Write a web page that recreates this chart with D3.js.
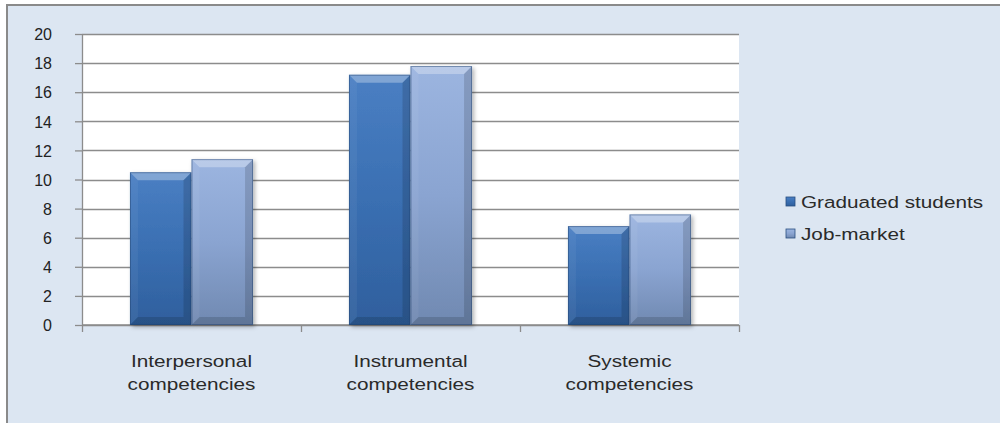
<!DOCTYPE html>
<html>
<head>
<meta charset="utf-8">
<script src="https://cdn.jsdelivr.net/npm/d3@7"></script>
<style>
  body { margin: 0; background: #fff; }
  svg { display: block; }
  .tick text { font-family: "Liberation Sans", Arial, sans-serif; fill: #222; }
</style>
</head>
<body>
<div class="chart"></div>
<script>
// data
var categories = ["Interpersonal competencies", "Instrumental competencies", "Systemic competencies"];
var seriesNames = ["Graduated students", "Job-market"];
var graduated = [10.5, 17.2, 6.8];
var jobMarket = [11.4, 17.8, 7.6];
var yTicks = [0, 2, 4, 6, 8, 10, 12, 14, 16, 18, 20];

var width = 1000,
    height = 423,
    plot = { left: 82, right: 739, top: 34, bottom: 325 };

var svg = d3.select('.chart').append('svg').attr('width', width).attr('height', height);
var defs = svg.append('defs');

// bar gradients, one per series
var palettes = [
  { id: 'gDark', stops: ['#4a7fc3', '#3a6fb2', '#2f5f9d'] },
  { id: 'gLight', stops: ['#9cb5e0', '#8aa4d1', '#7089b1'] }
];
palettes.forEach(function (p) {
  var g = defs.append('linearGradient').attr('id', p.id).attr('x1', 0).attr('y1', 0).attr('x2', 0).attr('y2', 1);
  g.append('stop').attr('offset', '0%').attr('stop-color', p.stops[0]);
  g.append('stop').attr('offset', '50%').attr('stop-color', p.stops[1]);
  g.append('stop').attr('offset', '100%').attr('stop-color', p.stops[2]);
});
var shadow = defs.append('filter').attr('id', 'shadow').attr('x', '-20%').attr('y', '-10%').attr('width', '150%').attr('height', '130%');
shadow.append('feDropShadow').attr('dx', 2).attr('dy', 2).attr('stdDeviation', 2).attr('flood-color', '#000').attr('flood-opacity', 0.3);

// outer frame
svg.append('rect').attr('x', 7).attr('y', 5).attr('width', width).attr('height', height)
  .attr('fill', '#dce6f2').attr('stroke', '#8a8a8a').attr('stroke-width', 2);

// plot area
svg.append('rect').attr('x', plot.left).attr('y', plot.top)
  .attr('width', plot.right - plot.left).attr('height', plot.bottom - plot.top).attr('fill', '#fff');

var y = d3.scaleLinear().domain([0, 20]).range([plot.bottom, plot.top]);
var x0 = d3.scaleBand().domain(categories).range([plot.left, plot.right]).paddingInner(0.438).paddingOuter(0.219);
var x1 = d3.scaleBand().domain(seriesNames).range([0, x0.bandwidth()]);

// gridlines
svg.append('g').selectAll('line').data(yTicks).enter().append('line')
  .attr('x1', plot.left).attr('x2', plot.right)
  .attr('y1', function (d) { return Math.round(y(d)) + 0.5; })
  .attr('y2', function (d) { return Math.round(y(d)) + 0.5; })
  .attr('stroke', '#8c8c8c').attr('stroke-width', 1.3);

// y axis
var yAxis = d3.axisLeft(y).tickValues(yTicks).tickSizeInner(7).tickSizeOuter(0);
var ySVG = svg.append('g').attr('transform', 'translate(' + plot.left + ',0)').call(yAxis);
ySVG.select('.domain').attr('stroke', '#8c8c8c').attr('stroke-width', 1.3);
ySVG.selectAll('.tick line').attr('stroke', '#8c8c8c').attr('stroke-width', 1.3);
ySVG.selectAll('.tick text').attr('font-size', 16).attr('fill', '#2a2a2a').attr('text-anchor', 'end')
  .attr('x', -30).attr('dy', '0.36em');

// x axis line with category boundary ticks
var xAxis = svg.append('g');
xAxis.append('line').attr('x1', plot.left).attr('x2', plot.right).attr('y1', plot.bottom).attr('y2', plot.bottom)
  .attr('stroke', '#8c8c8c').attr('stroke-width', 1.3);
var bounds = categories.map(function (c) { return x0(c) - x0.step() * x0.paddingInner() / 2; }).concat([plot.right]);
bounds[0] = plot.left;
xAxis.selectAll('.xt').data(bounds).enter().append('line').attr('class', 'xt')
  .attr('x1', function (d) { return Math.round(d) + 0.5; }).attr('x2', function (d) { return Math.round(d) + 0.5; })
  .attr('y1', plot.bottom).attr('y2', plot.bottom + 7)
  .attr('stroke', '#8c8c8c').attr('stroke-width', 1.3);

// category labels, two lines each, horizontally stretched like the source
var labels = svg.append('g').selectAll('g').data(categories).enter().append('g')
  .attr('transform', function (d) { return 'translate(' + (x0(d) + x0.bandwidth() / 2) + ',0)'; });
labels.each(function (d) {
  var words = d.split(' ');
  var g = d3.select(this);
  words.forEach(function (w, i) {
    g.append('text').text(w)
      .attr('transform', 'translate(0,' + (367 + i * 23) + ') scale(1.22,1)')
      .attr('text-anchor', 'middle')
      .attr('font-family', '"Liberation Sans", Arial, sans-serif').attr('font-size', 17).attr('fill', '#2a2a2a');
  });
});

// bars
var rows = categories.map(function (c, i) {
  return [
    { cat: c, series: seriesNames[0], value: graduated[i], fill: 'url(#gDark)' },
    { cat: c, series: seriesNames[1], value: jobMarket[i], fill: 'url(#gLight)' }
  ];
});
var barG = svg.append('g').selectAll('g').data(rows).enter().append('g');
var bars = barG.selectAll('g').data(function (d) { return d; }).enter().append('g')
  .attr('filter', 'url(#shadow)');

function bevel(d) {
  var bx = x0(d.cat) + x1(d.series), bw = x1.bandwidth(), by = y(d.value), bh = y(0) - y(d.value), b = 8;
  return { x: bx, y: by, w: bw, h: bh, b: b };
}
bars.append('rect')
  .attr('x', function (d) { return x0(d.cat) + x1(d.series); })
  .attr('y', function (d) { return y(d.value); })
  .attr('width', x1.bandwidth())
  .attr('height', function (d) { return y(0) - y(d.value); })
  .attr('fill', function (d) { return d.fill; });

// bevel facets: top light, left faint light, right and bottom dark
var facets = [
  { color: '#fff', op: 0.3, pts: function (r) { return [[r.x, r.y], [r.x + r.w, r.y], [r.x + r.w - r.b, r.y + r.b], [r.x + r.b, r.y + r.b]]; } },
  { color: '#fff', op: 0.05, pts: function (r) { return [[r.x, r.y], [r.x + r.b, r.y + r.b], [r.x + r.b, r.y + r.h - r.b], [r.x, r.y + r.h]]; } },
  { color: '#000', op: 0.14, pts: function (r) { return [[r.x + r.w, r.y], [r.x + r.w, r.y + r.h], [r.x + r.w - r.b, r.y + r.h - r.b], [r.x + r.w - r.b, r.y + r.b]]; } },
  { color: '#000', op: 0.14, pts: function (r) { return [[r.x, r.y + r.h], [r.x + r.b, r.y + r.h - r.b], [r.x + r.w - r.b, r.y + r.h - r.b], [r.x + r.w, r.y + r.h]]; } }
];
facets.forEach(function (f) {
  bars.append('polygon')
    .attr('points', function (d) { return f.pts(bevel(d)).join(' '); })
    .attr('fill', f.color).attr('opacity', f.op);
});
bars.append('rect')
  .attr('x', function (d) { return x0(d.cat) + x1(d.series) + 0.5; })
  .attr('y', function (d) { return y(d.value) + 0.5; })
  .attr('width', x1.bandwidth() - 1)
  .attr('height', function (d) { return y(0) - y(d.value) - 1; })
  .attr('fill', 'none').attr('stroke', '#1f3f6b').attr('stroke-opacity', 0.45);

// legend
var legend = svg.append('g').selectAll('g').data(seriesNames).enter().append('g')
  .attr('transform', function (d, i) { return 'translate(786,' + (197 + i * 32) + ')'; });
legend.append('rect').attr('width', 9).attr('height', 9)
  .attr('fill', function (d, i) { return i === 0 ? 'url(#gDark)' : 'url(#gLight)'; })
  .attr('stroke', '#2a4f80').attr('stroke-width', 0.8);
legend.append('text').text(function (d) { return d; })
  .attr('transform', 'translate(15,11) scale(1.22,1)')
  .attr('font-family', '"Liberation Sans", Arial, sans-serif').attr('font-size', 17).attr('fill', '#2a2a2a');
</script>
</body>
</html>
